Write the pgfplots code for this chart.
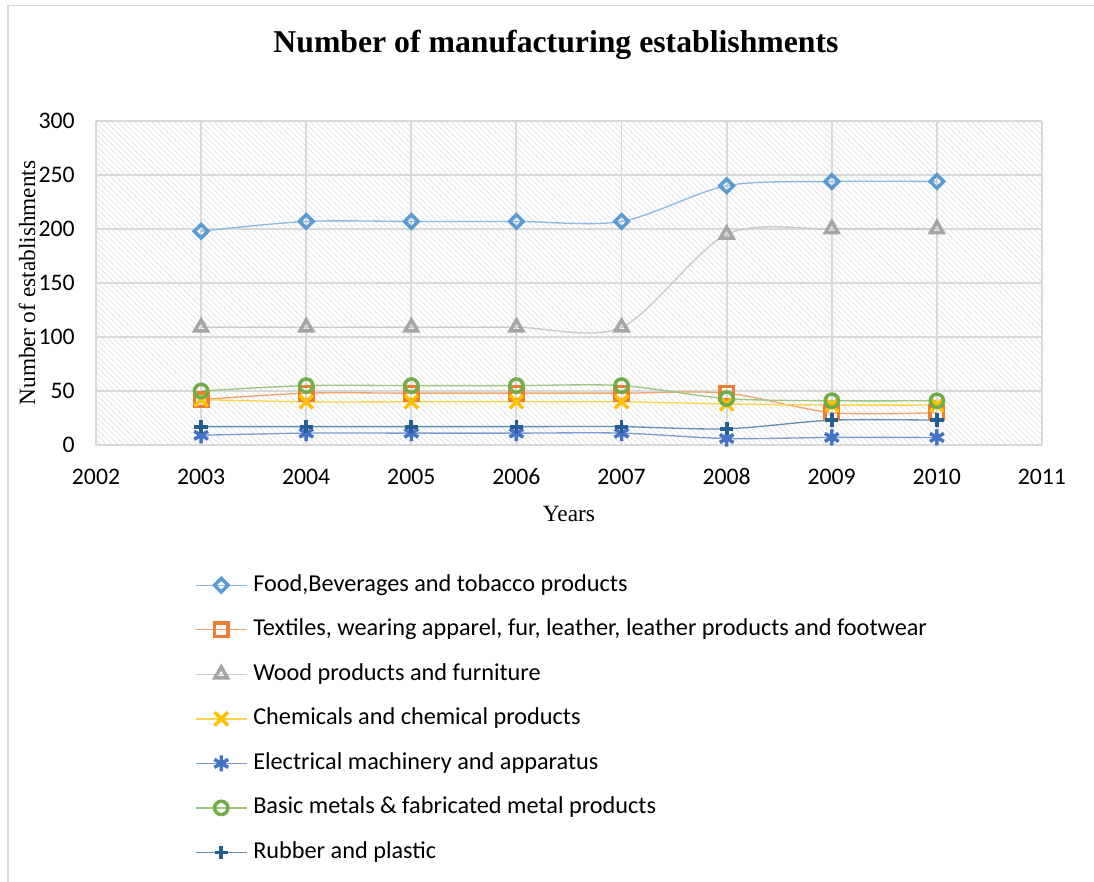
\documentclass[border=0pt]{standalone}
\usepackage{fontspec}
\setmainfont{Liberation Serif}
\newfontfamily\carlito{Carlito}
\usepackage{pgfplots}
\pgfplotsset{compat=1.18}
\usetikzlibrary{patterns.meta}
\definecolor{cfood}{HTML}{5B9BD5}
\definecolor{ctex}{HTML}{ED7D31}
\definecolor{cwood}{HTML}{A5A5A5}
\definecolor{cchem}{HTML}{FFC000}
\definecolor{celec}{HTML}{4472C4}
\definecolor{cmet}{HTML}{70AD47}
\definecolor{crub}{HTML}{255E91}
\definecolor{cgrid}{HTML}{D9D9D9}
\definecolor{chatch}{HTML}{E2E2E2}
\begin{document}
\begin{tikzpicture}
\begin{axis}[
  at={(0,0)}, anchor=south west,
  scale only axis,
  width=709.5pt, height=243pt,
  xmin=2002, xmax=2011, ymin=0, ymax=300,
  xtick={2002,...,2011}, ytick={0,50,...,300},
  /pgf/number format/.cd, 1000 sep={}, assume math mode=true,
  /pgfplots/.cd,
  grid=major,
  major grid style={cgrid, line width=1.4pt},
  axis line style={draw=none},
  major tick length=0pt,
  tick label style={font=\carlito\fontsize{17.8}{20}\selectfont},
  xticklabel style={anchor=center, yshift=-23.8pt},
  yticklabel style={anchor=east, inner sep=0pt, xshift=-15.75pt},
  axis background/.style={pattern={Lines[angle=-45, distance=3pt, line width=0.55pt]}, pattern color=chatch},
  every axis plot/.append style={smooth, line width=1pt},
  legend cell align=left,
  legend style={
    at={(0.10465,-0.397)}, anchor=north west,
    draw=none, fill=none, inner sep=0pt,
    row sep=16.4pt,
    font=\carlito\fontsize{18.2}{20}\selectfont,
    nodes={inner sep=0pt, text height=13pt, text depth=4pt},
  },
  legend image code/.code={%
    \draw[mark repeat=2, mark phase=2, #1] plot coordinates {(0pt,0pt) (19pt,0pt) (38pt,0pt)};
    \node[anchor=west, inner sep=0pt, minimum width=42.5pt] at (0pt,0pt) {};
  },
]
\addplot[color=cfood!70, mark=square, mark size=3.6pt, mark options={draw=cfood, fill=white, line width=2.6pt, rotate=45, solid}]
  coordinates {(2003,198) (2004,207) (2005,207) (2006,207) (2007,207) (2008,240) (2009,244) (2010,244)};
\addlegendentry{Food,Beverages and tobacco products}
\addplot[color=ctex!70, mark=square, mark size=5pt, mark options={draw=ctex, fill=white, line width=2.6pt}]
  coordinates {(2003,42) (2004,48) (2005,48) (2006,48) (2007,48) (2008,48) (2009,30) (2010,30)};
\addlegendentry{Textiles, wearing apparel, fur, leather, leather products and footwear}
\addplot[color=cwood!60, mark=triangle, mark size=5.5pt, mark options={draw=cwood, fill=white, line width=2.6pt}]
  coordinates {(2003,109) (2004,109) (2005,109) (2006,109) (2007,109) (2008,195) (2009,200) (2010,200)};
\addlegendentry{Wood products and furniture}
\addplot[color=cchem!70, mark=x, mark size=7pt, mark options={draw=cchem, line width=2.6pt}]
  coordinates {(2003,42) (2004,40) (2005,40) (2006,40) (2007,40) (2008,38) (2009,37) (2010,37)};
\addlegendentry{Chemicals and chemical products}
\addplot[color=celec!70, mark=asterisk, mark size=6pt, mark options={draw=celec, line width=2.6pt}]
  coordinates {(2003,9) (2004,11) (2005,11) (2006,11) (2007,11) (2008,6) (2009,7) (2010,7)};
\addlegendentry{Electrical machinery and apparatus}
\addplot[color=cmet!70, mark=o, mark size=5pt, mark options={draw=cmet, fill=white, line width=2.6pt}]
  coordinates {(2003,50) (2004,55) (2005,55) (2006,55) (2007,55) (2008,43) (2009,41) (2010,41)};
\addlegendentry{Basic metals \& fabricated metal products}
\addplot[color=crub!70, mark=+, mark size=5pt, mark options={draw=crub, line width=2.8pt}]
  coordinates {(2003,17) (2004,17) (2005,17) (2006,17) (2007,17) (2008,15) (2009,23) (2010,23)};
\addlegendentry{Rubber and plastic}
\end{axis}
\node[font=\bfseries\fontsize{23.8}{27}\selectfont] at (345pt,300pt) {Number of manufacturing establishments};
\node[rotate=90, font=\fontsize{17.5}{20}\selectfont] at (-51.75pt,121.5pt) {Number of establishments};
\node[font=\fontsize{17.5}{20}\selectfont] at (354.75pt,-51.75pt) {Years};
\pgfresetboundingbox
\path[use as bounding box] (-72pt,-327pt) rectangle (748.5pt,333.75pt);
\draw[cgrid, line width=1.2pt] (-66pt,-340pt) -- (-66pt,329.6pt) -- (760pt,329.6pt);
\end{tikzpicture}
\end{document}
